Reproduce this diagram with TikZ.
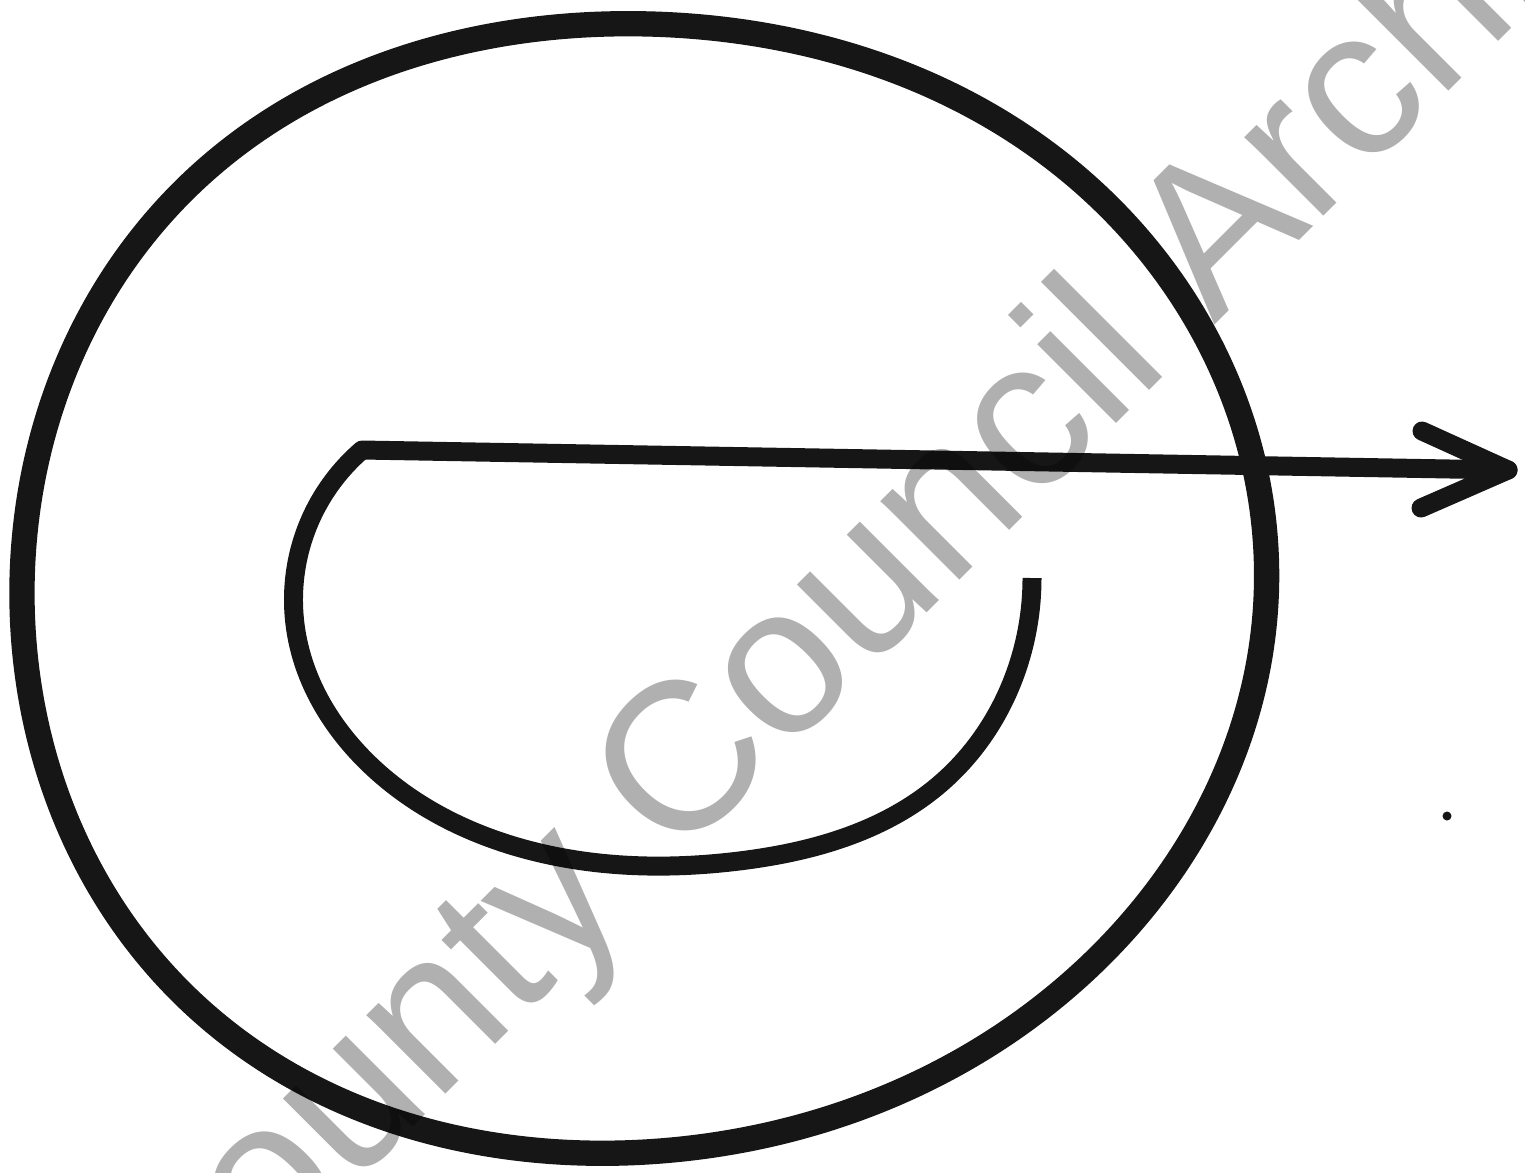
\documentclass[tikz,border=0pt]{standalone}
\usepackage{fontspec}
\usetikzlibrary{arrows.meta,calc,positioning,hobby}
\newfontfamily\wmfont{Liberation Sans}
\definecolor{ink}{RGB}{22,22,22}

\begin{document}
\begin{tikzpicture}[x=0.01cm,y=-0.01cm,
  ring/.style={ink,line width=7.2pt,line join=round},
  hook/.style={ink,line width=5.4pt,line cap=round,line join=round},
  wmark/.style={black,text opacity=.31,inner sep=0,rotate=45,anchor=base west,
    font=\wmfont\fontsize{60}{60}\selectfont}]
\useasboundingbox (0,0) rectangle (1525,1172);
% outer loop
\draw[ring,use Hobby shortcut,closed=true] (650,24) .. (1087,186) .. (1266,600)
  .. (1080,975) .. (660,1151) .. (200,1010) .. (22,600) .. (200,175);
% inner hook and arrow
\coordinate (hookstart) at (362,450);
\coordinate (tip) at (1508,470);
\coordinate (barbup) at (1422,431);
\coordinate (barbdown) at (1421,508);
\draw[hook,line cap=butt,use Hobby shortcut] (1032,578) .. (1021,656) .. (940,784)
  .. (739,861) .. (536,852) .. (366,761) .. (297,637) .. (304,536) .. (hookstart);
\draw[hook] (hookstart) -- (tip);
\draw[hook] (barbup) -- (tip) -- (barbdown);
\fill[ink] (1447,816) circle (4.5);
% watermark
\begin{scope}
\clip (0,0) rectangle (1525,1172);
\node[wmark] (wm) at (161,1379) {County Council Archives};
\end{scope}
\end{tikzpicture}
\end{document}
